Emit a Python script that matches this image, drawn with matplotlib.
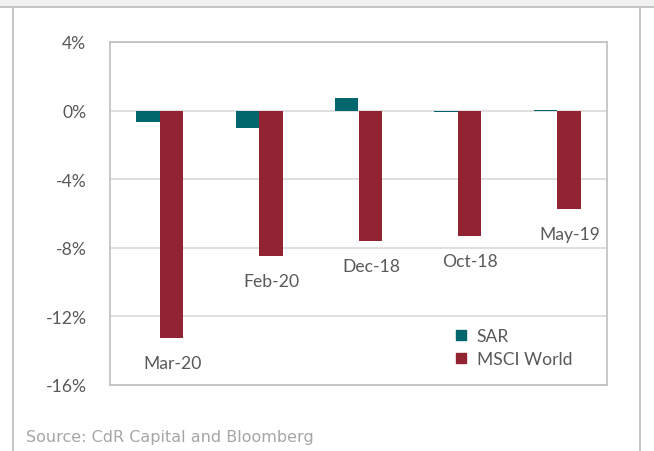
import numpy as np
import matplotlib
matplotlib.use("Agg")
import matplotlib.pyplot as plt
from matplotlib.lines import Line2D
from matplotlib.patches import Rectangle
from matplotlib.ticker import FuncFormatter

# data (monthly returns, %)
months = ["Mar-20", "Feb-20", "Dec-18", "Oct-18", "May-19"]
sar = [-0.65, -1.0, 0.75, -0.1, 0.05]
msci = [-13.25, -8.45, -7.6, -7.3, -5.75]
yticks = [4, 0, -4, -8, -12, -16]

teal = "#02676d"
maroon = "#922333"
grid_col = "#d9d9d9"
text_col = "#595959"
fs = 12.6

plt.rcParams["font.family"] = ["Lato", "DejaVu Sans"]

fig = plt.figure(figsize=(6.54, 4.52), dpi=100)

# outer frame of the slide
fig.patches.append(Rectangle((0, 1 - 7 / 452), 1, 7 / 452, transform=fig.transFigure,
                             facecolor="#f1f1f1", edgecolor="none", zorder=0))
fig.lines.append(Line2D([0, 1], [1 - 7.5 / 452] * 2, transform=fig.transFigure, color="#c0c0c0", lw=1.3))
fig.lines.append(Line2D([13 / 654] * 2, [0, 1 - 7.5 / 452], transform=fig.transFigure, color="#c0c0c0", lw=1.3))
fig.lines.append(Line2D([640 / 654] * 2, [0, 1 - 7.5 / 452], transform=fig.transFigure, color="#c0c0c0", lw=1.3))

ax = fig.add_axes([110 / 654, 1 - 386 / 452, 497 / 654, 343 / 452])

x = np.arange(len(months))
w = 0.237
ax.bar(x - w / 2, sar, w, color=teal, label="SAR", zorder=3)
ax.bar(x + w / 2, msci, w, color=maroon, label="MSCI World", zorder=3)

# month labels below each MSCI bar
for xi, v, m in zip(x, msci, months):
    ax.annotate(m, (xi + w / 2, v), xytext=(0.5, -18), textcoords="offset points",
                ha="center", va="center", fontsize=fs, color=text_col)

ax.set_xlim(-0.5, len(months) - 0.5)
ax.set_ylim(-16, 4)
ax.set_yticks(yticks)
ax.yaxis.set_major_formatter(FuncFormatter(lambda v, p: "%d%%" % v))
ax.set_xticks([])
ax.tick_params(axis="y", length=0, pad=17, labelsize=fs, labelcolor=text_col)
ax.grid(axis="y", color=grid_col, lw=1.2, zorder=0)
for s in ax.spines.values():
    s.set_color("#bfbfbf")
    s.set_linewidth(1.2)

handles = [Line2D([], [], marker="s", ls="none", color=teal, markersize=7.5),
           Line2D([], [], marker="s", ls="none", color=maroon, markersize=7.5)]
leg = ax.legend(handles, ["SAR", "MSCI World"], loc="upper left",
                bbox_to_anchor=(447 / 654, 1 - 320 / 452), bbox_transform=fig.transFigure,
                frameon=False, fontsize=fs, handlelength=0.6, handletextpad=0.6,
                labelspacing=0.42, borderpad=0)
for t in leg.get_texts():
    t.set_color(text_col)

fig.text(26 / 654, 1 - 438 / 452, "Source: CdR Capital and Bloomberg", fontsize=11.5,
         family="DejaVu Sans", color="#a6a6a6", ha="left", va="center")

fig.savefig("out.png", dpi=100)
